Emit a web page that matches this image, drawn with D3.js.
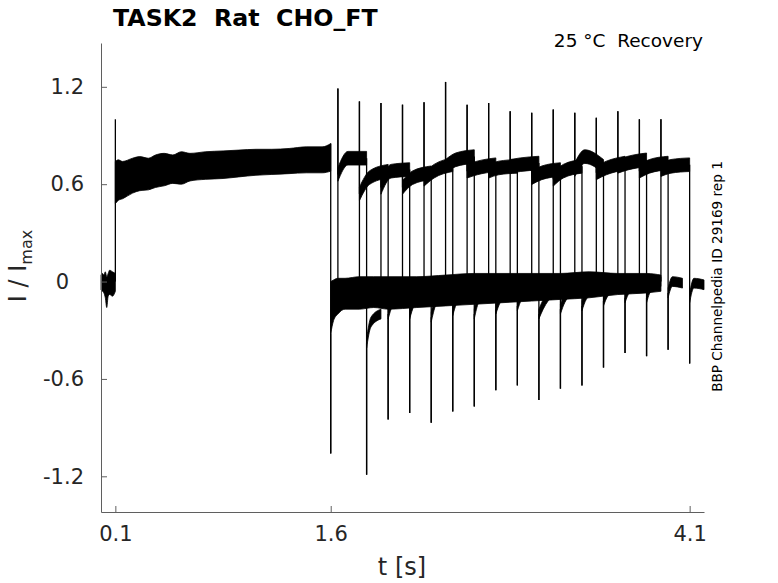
<!DOCTYPE html>
<html>
<head>
<meta charset="utf-8">
<script src="https://cdn.jsdelivr.net/npm/d3@7"></script>
<style>
  html, body { margin: 0; padding: 0; background: #fff; }
  svg { display: block; font-family: "DejaVu Sans", sans-serif; }
</style>
</head>
<body>
<svg id="chart" width="778" height="583"></svg>
<script>
// --- axis ticks ---
const tTicks = [0.1, 1.6, 4.1];
const iTicks = [-1.2, -0.6, 0, 0.6, 1.2];

// --- holding baseline before the conditioning step (t < 0.1 s) ---
const preT  = [0.000, 0.010, 0.020, 0.030, 0.040, 0.050, 0.060, 0.080, 0.100];
const preHi = [0.04, 0.05, 0.04, 0.06, 0.03, 0.05, 0.07, 0.06, 0.05];
const preLo = [-0.05, -0.06, -0.07, -0.10, -0.16, -0.09, -0.08, -0.09, -0.06];

// --- conditioning pulse 0.1 .. 1.6 s (noise envelope, all sweeps overlaid) ---
const condT  = [0.10, 0.12, 0.15, 0.22, 0.27, 0.33, 0.38, 0.44, 0.50, 0.56, 0.62, 0.73, 0.85, 0.96, 1.08, 1.19, 1.31, 1.43, 1.54, 1.60];
const condHi = [0.74, 0.75, 0.74, 0.76, 0.77, 0.76, 0.78, 0.79, 0.78, 0.80, 0.79, 0.80, 0.805, 0.81, 0.815, 0.815, 0.82, 0.83, 0.83, 0.85];
const condLo = [0.48, 0.50, 0.51, 0.545, 0.56, 0.565, 0.58, 0.59, 0.605, 0.60, 0.62, 0.63, 0.635, 0.645, 0.655, 0.66, 0.665, 0.67, 0.67, 0.68];
const condOnPeak = 1.00;      // capacitive spike at 0.1 s
const condOffDip = -1.06;     // spike at 1.6 s
const condOffRec = -0.32;

// --- interpulse baseline after 1.6 s (overlay of waiting sweeps) ---
const baseT  = [1.60, 1.62, 1.65, 1.70, 1.80, 1.90, 2.00, 2.20, 2.40, 2.60, 2.80, 3.00, 3.20, 3.40, 3.60, 3.80, 3.90];
const baseHi = [0.00, 0.01, 0.02, 0.02, 0.03, 0.03, 0.03, 0.03, 0.04, 0.05, 0.05, 0.05, 0.05, 0.06, 0.05, 0.05, 0.04];
const baseLo = [-0.32, -0.24, -0.20, -0.17, -0.17, -0.16, -0.17, -0.16, -0.15, -0.14, -0.13, -0.12, -0.11, -0.10, -0.08, -0.07, -0.06];

// --- test pulses, one per sweep ---
const testOn   = [1.65, 1.80, 1.95, 2.10, 2.25, 2.40, 2.55, 2.70, 2.85, 3.00, 3.15, 3.30, 3.45, 3.60, 3.75, 3.90];
const testOff  = [1.85, 2.00, 2.15, 2.30, 2.45, 2.60, 2.75, 2.90, 3.05, 3.20, 3.35, 3.50, 3.65, 3.80, 3.95, 4.10];
const sweepEnd = [1.95, 2.10, 2.25, 2.40, 2.55, 2.70, 2.85, 3.00, 3.15, 3.30, 3.45, 3.60, 3.75, 3.90, 4.05, 4.20];
const testPeak = [1.19, 1.11, 1.10, 1.09, 1.105, 1.23, 1.09, 1.10, 1.05, 1.04, 1.06, 1.04, 1.01, 1.05, 1.00, 1.00];
const testDip  = [-1.19, -0.85, -0.81, -0.87, -0.80, -0.77, -0.67, -0.64, -0.73, -0.66, -0.64, -0.53, -0.44, -0.46, -0.42, -0.505];
const plStart  = [0.66, 0.54, 0.58, 0.58, 0.63, 0.71, 0.68, 0.68, 0.71, 0.64, 0.63, 0.69, 0.67, 0.71, 0.68, 0.69];
const plMid    = [0.76, 0.64, 0.68, 0.64, 0.68, 0.75, 0.70, 0.70, 0.72, 0.67, 0.68, 0.77, 0.70, 0.73, 0.71, 0.71];
const plEnd    = [0.76, 0.68, 0.69, 0.67, 0.72, 0.77, 0.72, 0.71, 0.73, 0.69, 0.71, 0.71, 0.73, 0.75, 0.73, 0.72];
const recStart = [-0.38, -0.20, -0.20, -0.22, -0.18, -0.20, -0.17, -0.15, -0.20, -0.17, -0.15, -0.12, -0.10, -0.10, -0.07, -0.10];
const recMid   = [-0.25, -0.12, -0.12, -0.12, -0.10, -0.10, -0.10, -0.08, -0.14, -0.10, -0.08, -0.06, -0.04, -0.03, 0.00, -0.01];
const recEnd   = [-0.20, -0.06, -0.06, -0.05, -0.05, -0.04, -0.04, -0.03, -0.05, -0.04, -0.03, -0.02, -0.01, 0.00, -0.01, -0.02];

const noisePl = 0.042;  // half width of the noise band on test plateaus
const noiseRec = 0.03;  // half width on the tail after each test pulse

const svg = d3.select("#chart");
const x = d3.scaleLinear().domain([0, 4.2]).range([101, 704]);
const y = d3.scaleLinear().domain([-1.42, 1.47]).range([512, 43]);
const ink = "#000";

const band = d3.area()
  .x((d) => x(d.t)).y0((d) => y(d.lo)).y1((d) => y(d.hi))
  .curve(d3.curveMonotoneX);
const zipBand = (ts, lo, hi) => ts.map((t, i) => ({ t, lo: lo[i], hi: hi[i] }));
const vline = (t, a, b) => svg.append("line")
  .attr("x1", x(t)).attr("x2", x(t)).attr("y1", y(a)).attr("y2", y(b))
  .attr("stroke", ink).attr("stroke-width", 1.3);

const traces = svg.append("g");
const drawBand = (data) => traces.append("path").datum(data).attr("d", band)
  .attr("fill", ink).attr("stroke", ink).attr("stroke-width", 0.8);

// baseline, conditioning pulse, interpulse baseline
drawBand(zipBand(preT, preLo, preHi));
drawBand(zipBand(condT, condLo, condHi));
drawBand(zipBand(baseT, baseLo, baseHi));
vline(condT[0], 0, condOnPeak);
vline(condT[condT.length - 1], condHi[condHi.length - 1], condOffDip);
vline(condT[condT.length - 1], condOffDip, condOffRec);

// each sweep: up spike, plateau, down spike, short tail
testOn.forEach((on, k) => {
  const off = testOff[k];
  const pl = [
    { t: on, v: plStart[k] },
    { t: on + (off - on) * 0.35, v: plMid[k] },
    { t: off, v: plEnd[k] },
  ].map((d) => ({ t: d.t, lo: d.v - noisePl, hi: d.v + noisePl }));
  drawBand(pl);
  const tail = [
    { t: off, v: recStart[k] },
    { t: off + (sweepEnd[k] - off) * 0.3, v: recMid[k] },
    { t: sweepEnd[k], v: recEnd[k] },
  ].map((d) => ({ t: d.t, lo: d.v - noiseRec, hi: d.v + noiseRec }));
  drawBand(tail);
  vline(on, 0, testPeak[k]);
  vline(on, testPeak[k], plStart[k]);
  vline(off, plEnd[k], testDip[k]);
  vline(off, testDip[k], recStart[k]);
});

// --- axes (MATLAB style: left + bottom, ticks inside) ---
const axCol = "#5f5f5f", lblCol = "#262626";
const xAxis = svg.append("g").attr("transform", "translate(0,512)")
  .call(d3.axisBottom(x).tickValues(tTicks).tickSizeInner(-6).tickSizeOuter(0)
    .tickPadding(14).tickFormat(d3.format(".1f")));
const yAxis = svg.append("g").attr("transform", "translate(101,0)")
  .call(d3.axisLeft(y).tickValues(iTicks).tickSizeInner(-6).tickSizeOuter(0)
    .tickPadding(17).tickFormat((d) => (d === 0 ? "0" : d3.format(".1f")(d).replace("−", "-"))));
[xAxis, yAxis].forEach((g) => {
  g.select(".domain").attr("stroke", axCol);
  g.selectAll(".tick line").attr("stroke", axCol);
  g.selectAll(".tick text").attr("fill", lblCol)
    .attr("font-family", "DejaVu Sans").attr("font-size", 21);
});
yAxis.selectAll(".tick text").filter((d) => d === 0).attr("dx", -15);

// --- texts ---
svg.append("text").attr("x", 113).attr("y", 26)
  .attr("font-size", 23.7).attr("font-weight", "bold").attr("fill", "#000")
  .style("white-space", "pre").text("TASK2  Rat  CHO_FT");
svg.append("text").attr("x", 703).attr("y", 47).attr("text-anchor", "end")
  .attr("font-size", 18.5).attr("fill", "#000")
  .style("white-space", "pre").text("25 °C  Recovery");
svg.append("text").attr("transform", "translate(721.5,276.5) rotate(-90)")
  .attr("text-anchor", "middle").attr("font-size", 13.6).attr("fill", "#000")
  .text("BBP Channelpedia ID 29169 rep 1");
const yl = svg.append("text").attr("transform", "translate(26,266) rotate(-90)")
  .attr("text-anchor", "middle").attr("font-size", 24).attr("fill", lblCol)
  .style("white-space", "pre");
yl.append("tspan").text("I / I");
yl.append("tspan").attr("font-size", 16).attr("dy", 6).text("max");
svg.append("text").attr("x", 402).attr("y", 575).attr("text-anchor", "middle")
  .attr("font-size", 24).attr("fill", lblCol).text("t [s]");
</script>
</body>
</html>
